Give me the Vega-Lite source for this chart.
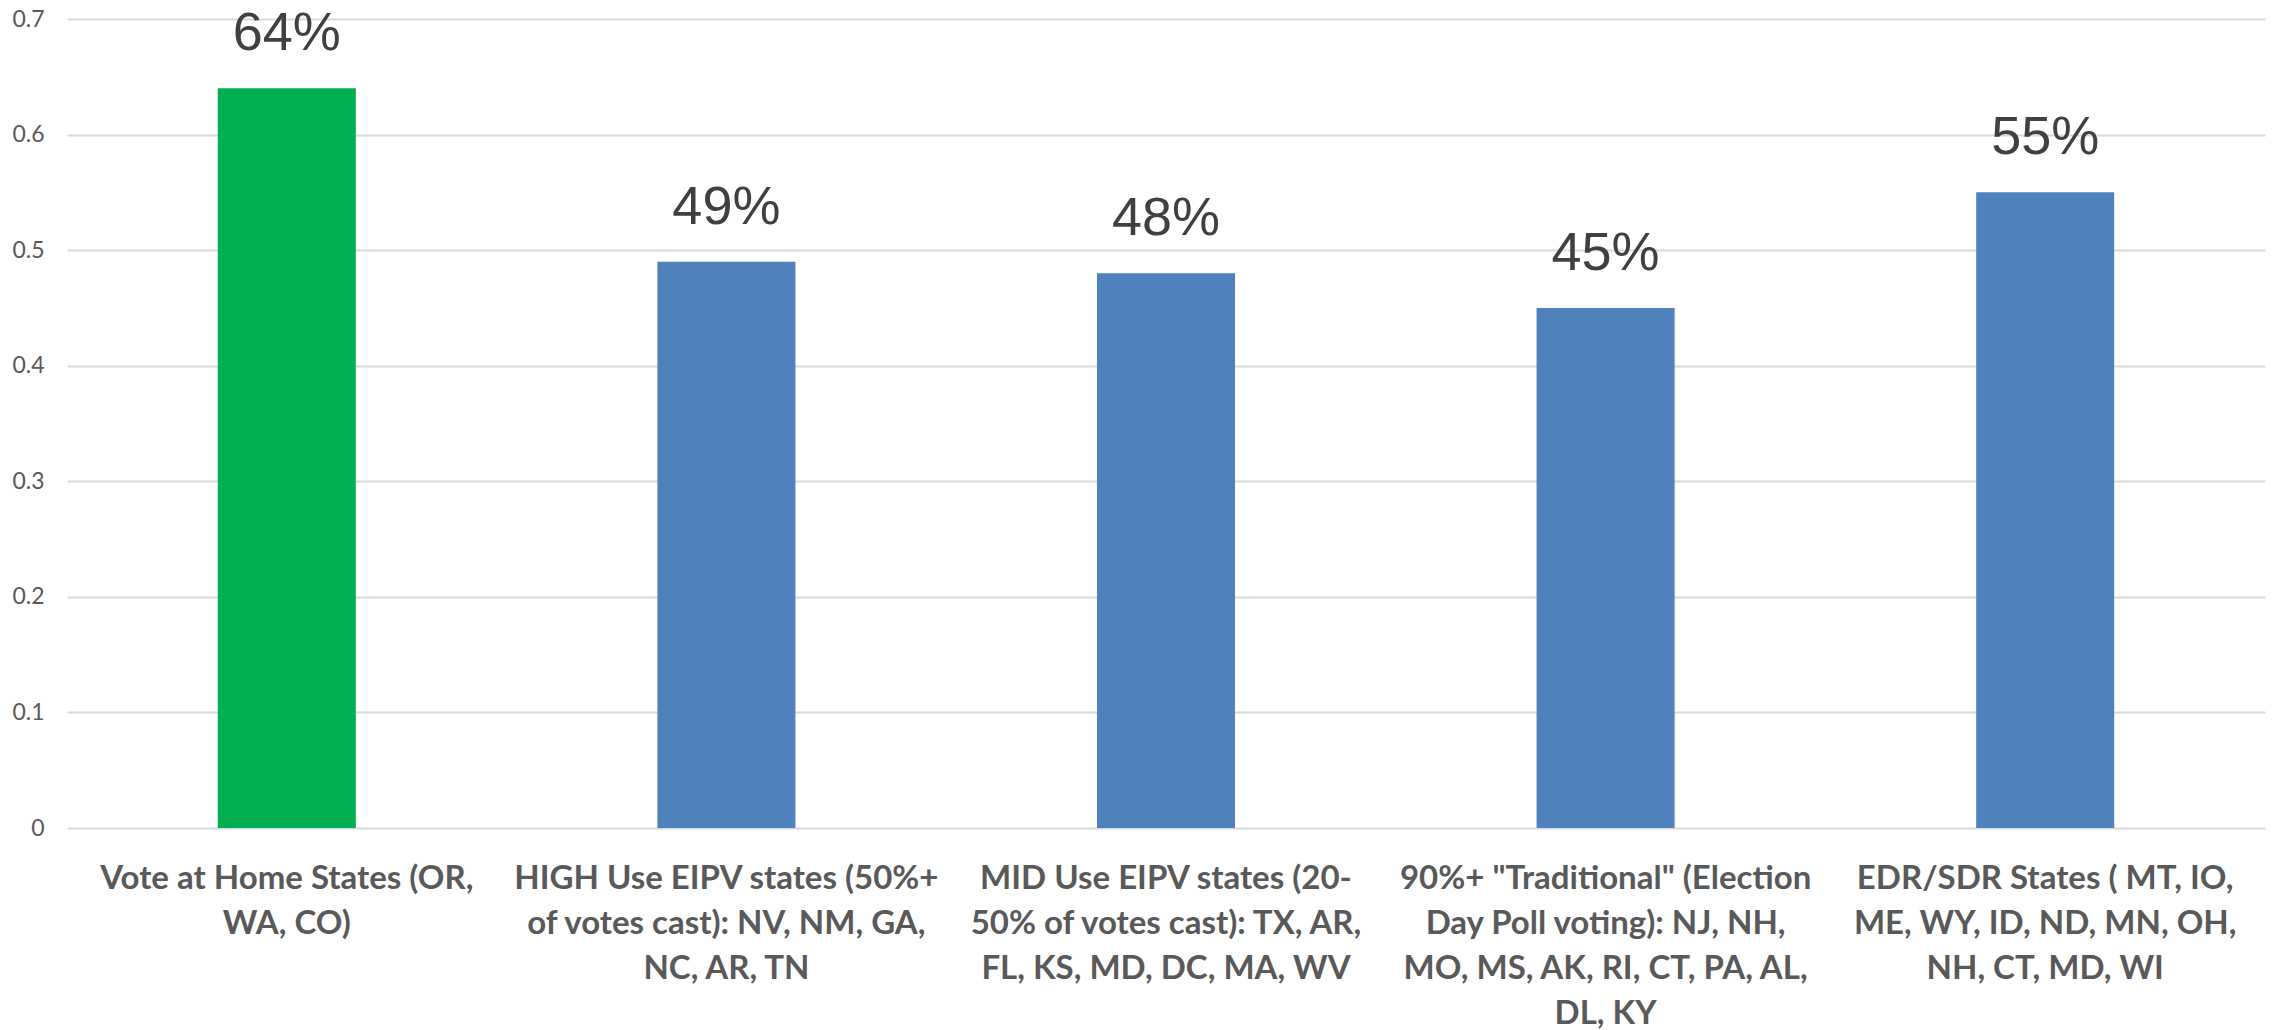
{
  "$schema": "https://vega.github.io/schema/vega-lite/v6.json",
  "width": 2198,
  "height": 809,
  "autosize": {"type": "none"},
  "padding": {"left": 67, "top": 19, "right": 10, "bottom": 202},
  "background": "white",
  "config": {"view": {"stroke": null}},
  "data": {
    "values": [
      {"category": "Vote at Home States (OR,\nWA, CO)", "value": 0.64, "group": "home"},
      {"category": "HIGH Use EIPV states (50%+\nof votes cast): NV, NM, GA,\nNC, AR, TN", "value": 0.49, "group": "other"},
      {"category": "MID Use EIPV states (20-\n50% of votes cast): TX, AR,\nFL, KS, MD, DC, MA, WV", "value": 0.48, "group": "other"},
      {"category": "90%+ \"Traditional\" (Election\nDay Poll voting): NJ, NH,\nMO, MS, AK, RI, CT, PA, AL,\nDL, KY", "value": 0.45, "group": "other"},
      {"category": "EDR/SDR States ( MT, IO,\nME, WY, ID, ND, MN, OH,\nNH, CT, MD, WI", "value": 0.55, "group": "other"}
    ]
  },
  "encoding": {
    "x": {
      "field": "category",
      "type": "nominal",
      "sort": null,
      "scale": {"paddingInner": 0.686, "paddingOuter": 0.343},
      "axis": {
        "title": null,
        "labelAngle": 0,
        "domain": false,
        "ticks": false,
        "grid": false,
        "labelExpr": "split(datum.value, '\\n')",
        "labelFont": "Lato, sans-serif",
        "labelFontSize": 33,
        "labelFontWeight": "bold",
        "labelColor": "#595959",
        "labelLineHeight": 45,
        "labelBaseline": "alphabetic",
        "labelPadding": 60,
        "labelLimit": 0
      }
    },
    "y": {
      "field": "value",
      "type": "quantitative",
      "scale": {"domain": [0, 0.7]},
      "axis": {
        "title": null,
        "values": [0, 0.1, 0.2, 0.3, 0.4, 0.5, 0.6, 0.7],
        "format": ".1~f",
        "domain": false,
        "ticks": false,
        "gridColor": "#d9d9d9",
        "gridWidth": 2,
        "labelFont": "Lato, sans-serif",
        "labelFontSize": 23,
        "labelColor": "#595959",
        "labelPadding": 23
      }
    }
  },
  "layer": [
    {
      "mark": {"type": "bar"},
      "encoding": {
        "color": {
          "field": "group",
          "type": "nominal",
          "scale": {"domain": ["home", "other"], "range": ["#00B050", "#4F81BD"]},
          "legend": null
        }
      }
    },
    {
      "mark": {"type": "text", "dy": -38, "baseline": "alphabetic", "font": "Liberation Sans, Arial, sans-serif", "fontSize": 54, "color": "#404040"},
      "encoding": {"text": {"field": "value", "type": "quantitative", "format": ".0%"}}
    }
  ]
}
